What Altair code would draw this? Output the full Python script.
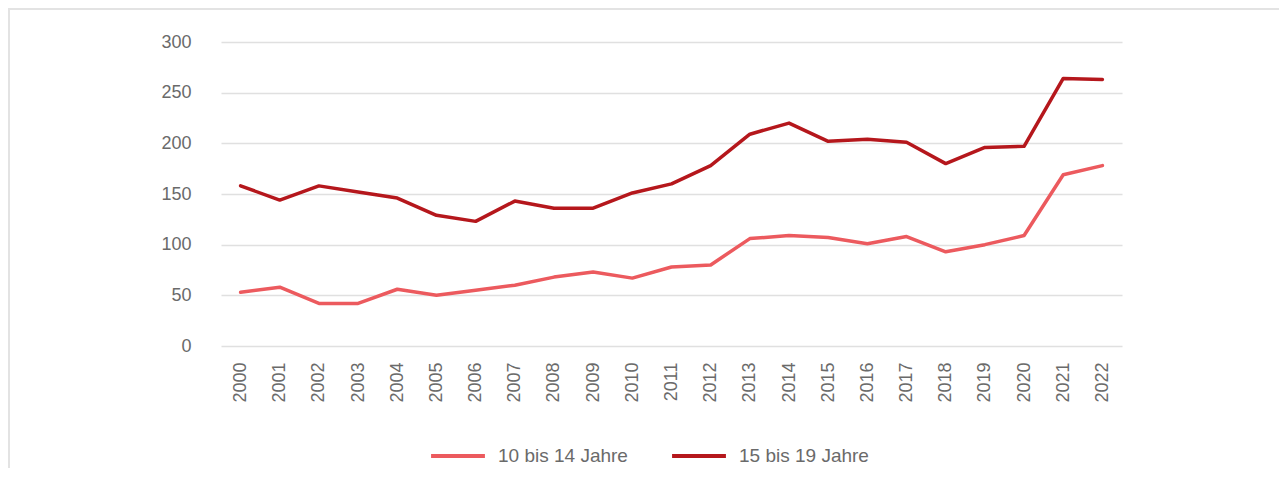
import altair as alt
import pandas as pd

years = [str(y) for y in range(2000, 2023)]
series_names = ["10 bis 14 Jahre", "15 bis 19 Jahre"]
values_10_14 = [53, 58, 42, 42, 56, 50, 55, 60, 68, 73, 67, 78, 80, 106, 109, 107,
                101, 108, 93, 100, 109, 169, 178]
values_15_19 = [158, 144, 158, 152, 146, 129, 123, 143, 136, 136, 151, 160, 178, 209,
                220, 202, 204, 201, 180, 196, 197, 264, 263]
y_ticks = [0, 50, 100, 150, 200, 250, 300]

rows = []
for name, vals in zip(series_names, [values_10_14, values_15_19]):
    for yr, v in zip(years, vals):
        rows.append({"Jahr": yr, "Wert": v, "Gruppe": name})
df = pd.DataFrame(rows)

FONT = "Liberation Sans"
TXT = "#6a6a6a"

lines = alt.Chart(df).mark_line(strokeWidth=3.5, strokeCap="round", strokeJoin="round").encode(
    x=alt.X("Jahr:O", sort=years, title=None,
            scale=alt.Scale(type="point", padding=0.5),
            axis=alt.Axis(labelAngle=-90, labelPadding=16, ticks=False, tickSize=0,
                          domain=False, grid=False, labelFont=FONT, labelFontSize=18,
                          labelColor=TXT)),
    y=alt.Y("Wert:Q", title=None,
            scale=alt.Scale(domain=[0, 300], nice=False),
            axis=alt.Axis(values=y_ticks, ticks=False, tickSize=0, domain=False,
                          labelPadding=30, grid=True, gridColor="#e0e0e0", gridWidth=1.5,
                          labelFont=FONT, labelFontSize=18, labelColor=TXT)),
    color=alt.Color("Gruppe:N", sort=series_names, title=None,
                    scale=alt.Scale(domain=series_names, range=["#ec5a5e", "#b5171c"]),
                    legend=alt.Legend(orient="none", legendX=208, legendY=385,
                                      direction="horizontal", symbolType="stroke",
                                      symbolSize=2900, symbolStrokeWidth=4,
                                      labelOffset=11, columnPadding=36,
                                      labelFont=FONT, labelFontSize=19, labelColor=TXT)),
)

frame_top = alt.Chart(df).mark_rule(color="#e3e3e3", strokeWidth=2).encode(
    x=alt.value(-213), x2=alt.value(1100), y=alt.value(-33))
frame_left = alt.Chart(df).mark_rule(color="#e3e3e3", strokeWidth=2).encode(
    x=alt.value(-212), y=alt.value(-34), y2=alt.value(500))

chart = alt.layer(frame_top, frame_left, lines).properties(
    width=901, height=304,
    autosize=alt.AutoSizeParams(type="none"),
    padding={"left": 213, "top": 34, "right": 157, "bottom": 122},
).configure(background="white", view=alt.ViewConfig(stroke=None))

chart.save("out.html", embed_options={"renderer": "svg", "actions": False})
